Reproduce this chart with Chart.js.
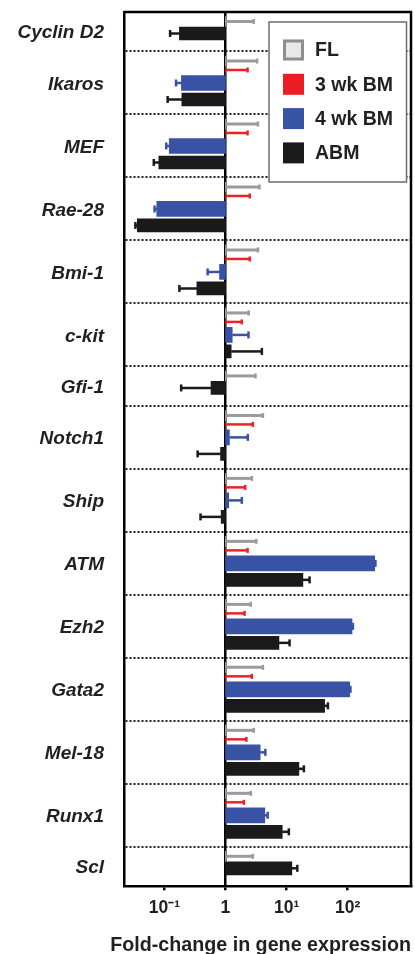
<!DOCTYPE html>
<html>
<head>
<meta charset="utf-8">
<script src="https://cdn.jsdelivr.net/npm/chart.js@4/dist/chart.umd.min.js"></script>
<style>
  html, body { margin: 0; padding: 0; background: #fff; }
</style>
</head>
<body>
<canvas id="chart" width="415" height="954"></canvas>
<script>
const GENES = ['Cyclin D2', 'Ikaros', 'MEF', 'Rae-28', 'Bmi-1', 'c-kit', 'Gfi-1', 'Notch1',
  'Ship', 'ATM', 'Ezh2', 'Gata2', 'Mel-18', 'Runx1', 'Scl']

const SERIES = ['FL', '3 wk BM', '4 wk BM', 'ABM']

// fold-change means and the end of the error bar, per gene (null = not measured)
const FL_MEAN = [1, 1, 1, 1, 1, 1, 1, 1, 1, 1, 1, 1, 1, 1, 1]
const FL_ERR = [2.9, 3.3, 3.4, 3.6, 3.4, 2.4, 3.1, 4.1, 2.7, 3.2, 2.6, 4.1, 2.9, 2.6, 2.8]
const BM3_MEAN = [null, 1, 1, 1, 1, 1, null, 1, 1, 1, 1, 1, 1, 1, null]
const BM3_ERR = [null, 2.3, 2.3, 2.5, 2.5, 1.85, null, 2.8, 2.1, 2.3, 2.05, 2.7, 2.2, 2.0, null]
const BM4_MEAN = [null, 0.19, 0.12, 0.075, 0.8, 1.29, null, 1.16, 1.13, 277, 118, 108, 3.7, 4.4, null]
const BM4_ERR = [null, 0.155, 0.107, 0.069, 0.51, 2.38, null, 2.32, 1.85, 285, 122, 111, 4.5, 4.9, null]
const ABM_MEAN = [0.176, 0.193, 0.081, 0.036, 0.34, 1.24, 0.58, 0.83, 0.85, 18.5, 7.5, 42, 15.9, 8.5, 12.2]
const ABM_ERR = [0.124, 0.113, 0.067, 0.0335, 0.176, 3.94, 0.188, 0.35, 0.39, 23.8, 11.2, 47.5, 19.2, 10.9, 15]

const X_TICKS = [0.1, 1, 10, 100]
const X_TICK_LABELS = ['10\u207B\u00B9', '1', '10\u00B9', '10\u00B2']
const X_TITLE = 'Fold-change in gene expression'

// row layout along the gene axis (units = pixels of the plot)
const ROW_FULL = 63
const ROW_SHORT = 39.5
const SLOT_FULL = [9.5, 18.5, 31.5, 48]
const SLOT_SHORT = [9.5, null, null, 21.5]

const FONT = '"Liberation Sans", Arial, Helvetica, sans-serif'
const INK = '#231f20'

const isShort = (i) => BM3_MEAN[i] == null && BM4_MEAN[i] == null
const rowTops = []
let TOTAL = 0
GENES.forEach((g, i) => {
  rowTops.push(TOTAL)
  TOTAL += isShort(i) ? ROW_SHORT : ROW_FULL
})
const rowHeight = (i) => isShort(i) ? ROW_SHORT : ROW_FULL
const slotPos = (i, s) => rowTops[i] + (isShort(i) ? SLOT_SHORT : SLOT_FULL)[s]

const boundaries = rowTops.concat([TOTAL])
const labelAt = new Map(GENES.map((g, i) => [rowTops[i] + rowHeight(i) / 2 + 1.5, g]))

function points (means, errs, s) {
  const out = []
  means.forEach((m, i) => {
    if (m == null) return
    out.push({ y: slotPos(i, s), x: [1, m], err: errs[i] })
  })
  return out
}

const datasets = [
  { label: SERIES[0], data: points(FL_MEAN, FL_ERR, 0), backgroundColor: '#e8e8e8', swatchBorder: '#8f8f8f',
    barThickness: 10, errColor: '#9b9b9b', errWidth: 3, capHeight: 5 },
  { label: SERIES[1], data: points(BM3_MEAN, BM3_ERR, 1), backgroundColor: '#ec1c24',
    barThickness: 10, errColor: '#ec2227', errWidth: 2.5, capHeight: 5 },
  { label: SERIES[2], data: points(BM4_MEAN, BM4_ERR, 2), backgroundColor: '#3852a4',
    barThickness: 15, errColor: '#3852a4', errWidth: 2.5, capHeight: 7 },
  { label: SERIES[3], data: points(ABM_MEAN, ABM_ERR, 3), backgroundColor: '#1b1a1a',
    barThickness: 13, errColor: '#1b1a1a', errWidth: 2.5, capHeight: 7 }
]

const errorBars = {
  id: 'errorBars',
  afterDatasetsDraw (chart) {
    const { ctx } = chart
    const xScale = chart.scales.x
    chart.data.datasets.forEach((ds, di) => {
      const meta = chart.getDatasetMeta(di)
      meta.data.forEach((bar, j) => {
        const err = ds.data[j].err
        if (err == null) return
        const xe = xScale.getPixelForValue(err)
        ctx.save()
        ctx.strokeStyle = ds.errColor
        ctx.lineWidth = ds.errWidth
        ctx.beginPath()
        ctx.moveTo(bar.x, bar.y)
        ctx.lineTo(xe, bar.y)
        ctx.stroke()
        ctx.lineWidth = 2.5
        ctx.beginPath()
        ctx.moveTo(xe, bar.y - ds.capHeight / 2)
        ctx.lineTo(xe, bar.y + ds.capHeight / 2)
        ctx.stroke()
        ctx.restore()
      })
    })
  }
}

const frame = {
  id: 'frame',
  afterDatasetsDraw (chart) {
    const { ctx, chartArea: a } = chart
    ctx.save()
    ctx.strokeStyle = '#000'
    ctx.lineWidth = 2.5
    ctx.beginPath()
    ctx.moveTo(a.left, a.top)
    ctx.lineTo(a.right, a.top)
    ctx.lineTo(a.right, a.bottom)
    ctx.stroke()
    ctx.restore()
  }
}

const boxLegend = {
  id: 'boxLegend',
  afterDraw (chart) {
    const { ctx, chartArea: a } = chart
    const left = a.right - 142
    const top = a.top + 10
    ctx.save()
    ctx.fillStyle = '#fff'
    ctx.fillRect(left, top, 137.5, 160)
    ctx.strokeStyle = '#6d6d6d'
    ctx.lineWidth = 1.5
    ctx.strokeRect(left, top, 137.5, 160)
    chart.data.datasets.forEach((ds, i) => {
      const cy = top + 28 + i * 34.3
      ctx.fillStyle = ds.backgroundColor
      ctx.fillRect(left + 14, cy - 10.5, 21, 21)
      if (ds.swatchBorder) {
        ctx.strokeStyle = ds.swatchBorder
        ctx.lineWidth = 3
        ctx.strokeRect(left + 15.5, cy - 9, 18, 18)
      }
      ctx.fillStyle = INK
      ctx.font = 'bold 19.5px ' + FONT
      ctx.textBaseline = 'middle'
      ctx.fillText(ds.label, left + 46, cy + 1)
    })
    ctx.restore()
  }
}

new Chart(document.getElementById('chart'), {
  type: 'bar',
  data: { datasets },
  options: {
    indexAxis: 'y',
    responsive: false,
    animation: false,
    datasets: { bar: { grouped: false, borderWidth: 0 } },
    layout: { padding: { top: 12, right: 4, left: 0, bottom: 0 } },
    plugins: {
      legend: { display: false },
      tooltip: { enabled: false },
      title: {
        display: true,
        position: 'bottom',
        align: 'end',
        text: X_TITLE,
        color: INK,
        font: { family: FONT, size: 19.7, weight: 'bold', lineHeight: 1 },
        padding: { top: 0, bottom: -1 }
      }
    },
    scales: {
      x: {
        type: 'logarithmic',
        min: 0.0218,
        max: 1090,
        afterBuildTicks: (scale) => { scale.ticks = X_TICKS.map(v => ({ value: v })) },
        afterFit: (scale) => { scale.height = 49 },
        ticks: {
          autoSkip: false,
          maxRotation: 0,
          padding: 7,
          color: INK,
          font: { family: FONT, size: 17.5, weight: 'bold' },
          callback: (v) => X_TICK_LABELS[X_TICKS.indexOf(v)]
        },
        grid: {
          color: (c) => c.tick && c.tick.value === 1 ? '#000' : 'rgba(0,0,0,0)',
          lineWidth: 2.5,
          tickColor: '#000',
          tickWidth: 2.5,
          tickLength: 4
        },
        border: { color: '#000', width: 2.5 }
      },
      y: {
        type: 'linear',
        reverse: true,
        offset: false,
        min: 0,
        max: TOTAL,
        afterBuildTicks: (scale) => {
          const vals = boundaries.concat([...labelAt.keys()]).sort((a, b) => a - b)
          scale.ticks = vals.map(v => ({ value: v }))
        },
        afterFit: (scale) => {
          scale.width = 124
          scale.paddingTop = 0
          scale.paddingBottom = 0
        },
        ticks: {
          autoSkip: false,
          padding: 20,
          color: INK,
          font: { family: FONT, size: 19, weight: 'bold', style: 'italic' },
          callback: (v) => labelAt.get(v) || ''
        },
        grid: {
          drawTicks: false,
          offset: false,
          lineWidth: 2,
          color: (c) => {
            const v = c.tick && c.tick.value
            return boundaries.includes(v) && v > 0 && v < TOTAL ? '#222' : 'rgba(0,0,0,0)'
          }
        },
        border: { color: '#000', width: 2.5, dash: [2, 2] }
      }
    }
  },
  plugins: [errorBars, frame, boxLegend]
})
</script>
</body>
</html>
